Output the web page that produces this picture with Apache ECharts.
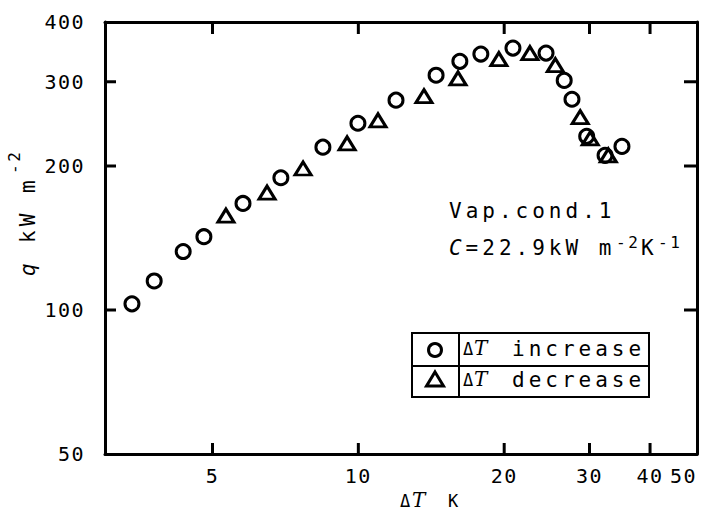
<!DOCTYPE html>
<html>
<head>
<meta charset="utf-8">
<script src="https://cdn.jsdelivr.net/npm/echarts@6/dist/echarts.min.js"></script>
<style>
  html, body { margin: 0; padding: 0; background: #fff; }
  #chart { width: 704px; height: 516px; }
  /* typewriter-like spacing of the original figure */
  #chart text[style*="20px"] { letter-spacing: 1.5px; }
  #chart text[style*="21px"] { letter-spacing: 4px; }
  #chart text[style*="16px"] { letter-spacing: 2.5px; }
</style>
</head>
<body>
<div id="chart"></div>
<script>
// ΔT (K) and q (kW m-2)
var incDT = [3.41, 3.79, 4.35, 4.80, 5.78, 6.92, 8.45, 9.98, 11.96, 14.47, 16.2, 17.9, 20.85, 24.4, 26.6, 27.6, 29.6, 32.3, 35.0];
var incQ = [103, 115, 132.5, 142.3, 167, 189, 219, 245.7, 274.6, 309.6, 331, 342.8, 352.8, 344.4, 302, 275.8, 230.7, 210.5, 219.8];
var decDT = [5.33, 6.48, 7.69, 9.48, 10.98, 13.66, 16.06, 19.5, 22.6, 25.5, 28.7, 30.1, 32.8];
var decQ = [157.5, 176, 197.6, 223, 249.2, 279.9, 305, 334.6, 344.4, 325, 253, 228.4, 210.5];

var xRange = [3, 50];
var yRange = [50, 400];
var xTicks = [5, 10, 20, 30, 40];
var xLabels = [5, 10, 20, 30, 40, 50];
var yTicks = [100, 200, 300];
var yLabels = [50, 100, 200, 300, 400];

var ink = '#000';
var mono = 'DejaVu Sans Mono';

function pairs(xs, ys) {
  return xs.map(function (x, i) { return [x, ys[i]]; });
}

function txt(x, y, s, size, extra) {
  var st = {
    text: s, fontSize: size, fontFamily: mono, fill: ink,
    align: 'left', textAlign: 'left', verticalAlign: 'middle', textVerticalAlign: 'middle'
  };
  for (var k in (extra || {})) st[k] = extra[k];
  return { type: 'text', x: x, y: y, style: st };
}

function rot(el) { el.rotation = Math.PI / 2; return el; }

function seg(x1, y1, x2, y2, w) {
  return { type: 'line', shape: { x1: x1, y1: y1, x2: x2, y2: y2 }, style: { stroke: ink, lineWidth: w || 3 } };
}

var frameLine = { lineStyle: { color: ink, width: 3 } };

function logAxis(range, pos, labels) {
  return {
    type: 'log', logBase: 10, min: range[0], max: range[1], position: pos,
    axisLine: frameLine,
    axisTick: { show: false },
    minorTick: { show: false },
    splitLine: { show: false },
    axisLabel: labels
      ? { customValues: labels, color: ink, fontFamily: mono, fontSize: 20,
          margin: pos === 'left' ? 20 : 12, alignMaxLabel: pos === 'bottom' ? 'right' : null }
      : { show: false }
  };
}

var graphics = [
  // axis titles
  txt(400, 501, 'Δ', 17),
  txt(412, 500, 'T', 20, { fontFamily: 'DejaVu Serif', fontStyle: 'italic' }),
  txt(448, 501, 'K', 17),
  rot(txt(28, 276, 'q', 21, { fontStyle: 'italic' })),
  rot(txt(28, 243, 'kW m', 21)),
  rot(txt(14, 174, '-2', 16)),

  // annotation
  txt(449, 211, 'Vap.cond.1', 21),
  txt(449, 248, 'C', 21, { fontStyle: 'italic' }),
  txt(465.6, 248, '=22.9kW m', 21),
  txt(616, 242, '-2', 16),
  txt(641, 248, 'K', 21),
  txt(658, 242, '-1', 16),

  // legend table
  { type: 'rect', shape: { x: 412, y: 333, width: 237, height: 64 }, style: { fill: 'none', stroke: ink, lineWidth: 2 } },
  seg(412, 366, 649, 366, 2),
  seg(459, 333, 459, 397, 2),
  { type: 'circle', shape: { cx: 435, cy: 350, r: 6.5 }, style: { fill: 'none', stroke: ink, lineWidth: 3 } },
  { type: 'polygon', shape: { points: [[435, 372], [443.5, 386], [426.5, 386]] }, style: { fill: 'none', stroke: ink, lineWidth: 3 } },
  txt(463, 349, 'Δ', 17),
  txt(474, 348, 'T', 20, { fontFamily: 'DejaVu Serif', fontStyle: 'italic' }),
  txt(512, 349, 'increase', 21),
  txt(463, 380, 'Δ', 17),
  txt(474, 379, 'T', 20, { fontFamily: 'DejaVu Serif', fontStyle: 'italic' }),
  txt(512, 380, 'decrease', 21)
];

var markStyle = { color: 'rgba(255,255,255,0)', borderColor: ink, borderWidth: 3, opacity: 1 };

var chart = echarts.init(document.getElementById('chart'), null, { renderer: 'svg' });

chart.setOption({
  animation: false,
  backgroundColor: '#fff',
  grid: { left: 105, right: 7, top: 22, bottom: 62, containLabel: false },
  xAxis: [logAxis(xRange, 'bottom', xLabels), logAxis(xRange, 'top', null)],
  yAxis: [logAxis(yRange, 'left', yLabels), logAxis(yRange, 'right', null)],
  series: [
    {
      name: 'ΔT increase', type: 'scatter', xAxisIndex: 0, yAxisIndex: 0,
      symbol: 'circle', symbolSize: 14, itemStyle: markStyle,
      data: pairs(incDT, incQ)
    },
    {
      name: 'ΔT decrease', type: 'scatter', xAxisIndex: 0, yAxisIndex: 0,
      symbol: 'triangle', symbolSize: [16, 13], itemStyle: markStyle,
      data: pairs(decDT, decQ)
    }
  ],
  graphic: graphics
});

// inward ticks on all four sides, placed through the axes' own log scales
function frameTicks() {
  var toX = function (v) { return chart.convertToPixel({ xAxisIndex: 0 }, v); };
  var toY = function (v) { return chart.convertToPixel({ yAxisIndex: 0 }, v); };
  var x0 = toX(xRange[0]), x1 = toX(xRange[1]);
  var y0 = toY(yRange[0]), y1 = toY(yRange[1]);
  var out = [];
  xTicks.forEach(function (v) {
    var px = toX(v);
    out.push(seg(px, y0, px, y0 - 11));
    out.push(seg(px, y1, px, y1 + 12));
  });
  yTicks.forEach(function (v) {
    var py = toY(v);
    out.push(seg(x0, py, x0 + 11, py));
    out.push(seg(x1, py, x1 - 13, py));
  });
  return out;
}
chart.setOption({ graphic: graphics.concat(frameTicks()) });
</script>
</body>
</html>
